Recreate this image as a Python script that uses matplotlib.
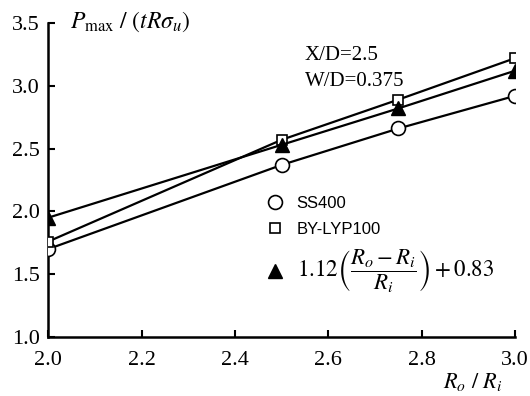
import matplotlib
matplotlib.use("Agg")
import matplotlib.pyplot as plt
from matplotlib.lines import Line2D

plt.rcParams['font.family'] = ['Liberation Serif', 'DejaVu Serif']
plt.rcParams['mathtext.fontset'] = 'stix'

# data
ratio = [2.0, 2.5, 2.75, 3.0]
ss400 = [1.70, 2.37, 2.66, 2.92]
lyp100 = [1.76, 2.57, 2.89, 3.22]
formula = [1.95, 2.53, 2.82, 3.12]

fig = plt.figure(figsize=(5.3, 3.96), dpi=100)
ax = fig.add_axes([0.091, 0.149, 0.881, 0.793])

lw = 1.6
ax.plot(ratio, ss400, color='black', lw=lw, marker='o', ms=10,
        mfc='white', mec='black', mew=1.2, zorder=3)
ax.plot(ratio, lyp100, color='black', lw=lw, marker='s', ms=7.5,
        mfc='white', mec='black', mew=1.2, zorder=3)
ax.plot(ratio, formula, color='black', lw=lw, marker='^', ms=10,
        mfc='black', mec='black', zorder=4)

ax.set_xlim(2.0, 3.0)
ax.set_ylim(1.0, 3.5)
ax.set_xticks([2.0, 2.2, 2.4, 2.6, 2.8, 3.0])
ax.set_yticks([1.0, 1.5, 2.0, 2.5, 3.0, 3.5])
ax.set_xticklabels(['2.0', '2.2', '2.4', '2.6', '2.8', '3.0'])
ax.set_yticklabels(['1.0', '1.5', '2.0', '2.5', '3.0', '3.5'])
ax.tick_params(direction='in', length=5, width=1.5, labelsize=16)
ax.tick_params(axis='x', pad=10)
ax.tick_params(axis='y', pad=6)
ax.spines['top'].set_visible(False)
ax.spines['right'].set_visible(False)
ax.spines['left'].set_linewidth(1.8)
ax.spines['bottom'].set_linewidth(1.8)

ax.text(0.047, 1.003, r'$P_{\rm max}\ /\ \left(tR\sigma_u\right)$', transform=ax.transAxes,
        fontsize=17, va='center', ha='left')
ax.text(0.972, -0.143, r'$R_o\ /\ R_i$', transform=ax.transAxes,
        fontsize=16, va='center', ha='right')

ax.text(0.55, 0.895, 'X/D=2.5', transform=ax.transAxes, fontsize=15, va='center')
ax.text(0.55, 0.815, 'W/D=0.375', transform=ax.transAxes, fontsize=15, va='center')

handles = [
    Line2D([], [], ls='none', marker='o', ms=10, mfc='white', mec='black', mew=1.2),
    Line2D([], [], ls='none', marker='s', ms=7.5, mfc='white', mec='black', mew=1.2),
    Line2D([], [], ls='none', marker='^', ms=10, mfc='black', mec='black'),
]
labels = ['SS400', 'BY-LYP100',
          r'$1.12\left(\dfrac{R_o-R_i}{R_i}\right)+0.83$']
leg = ax.legend(handles, labels, loc='upper left', bbox_to_anchor=(0.45, 0.476),
                frameon=False, handlelength=1.0, handletextpad=0.8,
                labelspacing=0.65, borderpad=0,
                prop={'family': ['Liberation Sans', 'DejaVu Sans'], 'size': 12})
leg.get_texts()[2].set_fontsize(16.5)

fig.savefig('out.png', dpi=100)
